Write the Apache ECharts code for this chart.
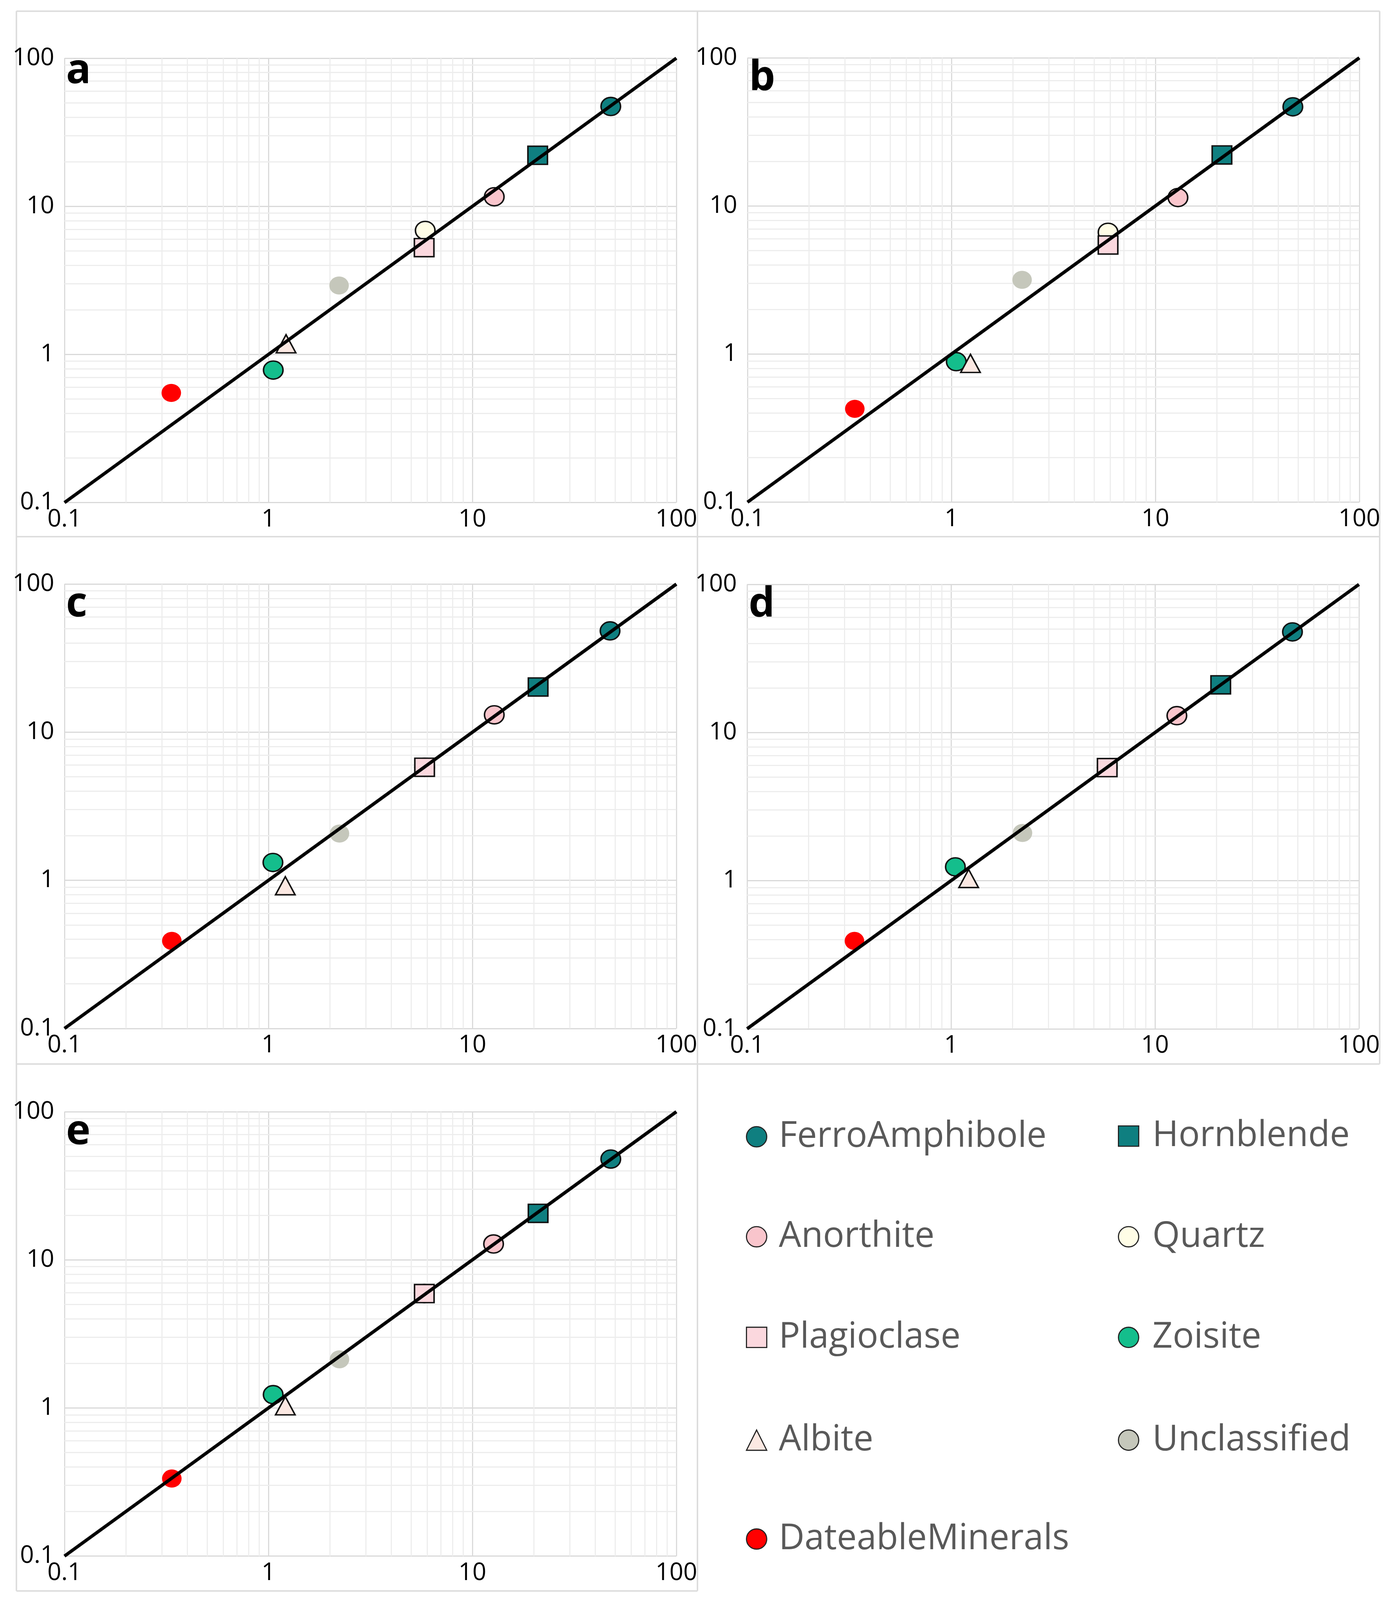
<!DOCTYPE html>
<html>
<head>
<meta charset="utf-8">
<title>Mineral comparison</title>
<script src="https://cdn.jsdelivr.net/npm/echarts@6/dist/echarts.min.js"></script>
<style>
html,body{margin:0;padding:0;background:#fff;overflow:hidden;}
#chart{width:100vw;height:100vh;}
</style>
</head>
<body>
<div id="chart"></div>
<script>
// minerals in drawing order
var minerals = ['FerroAmphibole','Hornblende','Anorthite','Quartz','Plagioclase','Zoisite','Albite','Unclassified','DateableMinerals'];

// [x, y] per mineral, same order as minerals
var panelA = [[47.7,47.2],[20.9,22.1],[12.8,11.6],[5.87,6.87],[5.8,5.26],[1.056,0.784],[1.22,1.18],[2.22,2.92],[0.334,0.55]];
var panelB = [[47.2,46.7],[21.2,22.1],[12.9,11.4],[5.86,6.64],[5.86,5.45],[1.056,0.889],[1.24,0.865],[2.22,3.17],[0.336,0.427]];
var panelC = [[47.3,48.3],[21.0,20.2],[12.8,13.1],[5.83,5.8],[5.83,5.8],[1.052,1.32],[1.21,0.92],[2.23,2.07],[0.336,0.39]];
var panelD = [[47.2,47.8],[21.0,21.0],[12.8,13.0],[5.83,5.8],[5.83,5.8],[1.05,1.24],[1.22,1.035],[2.24,2.10],[0.336,0.392]];
var panelE = [[47.7,47.9],[21.0,20.6],[12.7,12.8],[5.81,5.92],[5.81,5.92],[1.055,1.23],[1.21,1.035],[2.23,2.13],[0.336,0.334]];

var panelLetters = ['a','b','c','d','e'];
var axisTicks = [0.1, 1, 10, 100];
var oneToOne = [[0.1,0.1],[100,100]];

var panels = [panelA, panelB, panelC, panelD, panelE];

var symbols = ['circle','rect','circle','circle','rect','circle','triangle','circle','circle'];
var colors = ['#0f7f80','#0f7f80','#f9c5cc','#fffde6','#fbd8de','#14be8c','#fbe8e2','#c5c7bb','#ff0000'];
var bordered = [true,true,true,true,true,true,true,false,false];

// layout measured on a 3560 x 4594 page
var REF_W = 3560, REF_H = 4594;
var gridPos = [
    {left:165, top:167},
    {left:1913, top:166},
    {left:165, top:1677},
    {left:1912, top:1678},
    {left:165, top:3192}
];
var letterTop = [146, 166, 1677, 1678, 3192];
// legend slots: mineral index -> [icon left, icon centre y]
var legendSlots = {
    0:[1909,3264], 1:[2861,3262],
    2:[1909,3551], 3:[2861,3551],
    4:[1909,3840], 5:[2861,3840],
    6:[1909,4135], 7:[2861,4135],
    8:[1909,4419]
};
var frame = [
    [42,32,42,4568],[1785,32,1785,4568],[3531,32,3531,3055],
    [42,32,3531,32],[42,1541,3531,1541],[42,3055,3531,3055],[42,4568,1785,4568]
];

// minor grid values 0.2..0.9, 2..9, 20..90
var minorVals = [];
for (var d = 0; d < axisTicks.length - 1; d++) {
    for (var k = 2; k <= 9; k++) {
        minorVals.push(+(axisTicks[d] * k).toPrecision(3));
    }
}

function fmt(v){
    return String(+(+v).toPrecision(3));
}

var chart = echarts.init(document.getElementById('chart'));

function build(){
    var sx = chart.getWidth() / REF_W;
    var sy = chart.getHeight() / REF_H;
    var sf = Math.sqrt(sx * sy);

    var grids = [], xAxes = [], yAxes = [], series = [], titles = [], legends = [];

    panels.forEach(function(pts, p){
        grids.push({
            left: gridPos[p].left * sx, top: gridPos[p].top * sy,
            width: 1566 * sx, height: 1276 * sy,
            containLabel: false,
            outerBoundsMode: 'none'
        });
        xAxes.push({
            type:'log', logBase:10, min:0.1, max:100, gridIndex:p,
            axisLine:{show:false}, axisTick:{show:false},
            axisLabel:{fontSize:66*sf, fontFamily:'Open Sans', color:'#000', margin:14*sy,
                showMinLabel:true, showMaxLabel:true, hideOverlap:false, formatter:fmt},
            splitLine:{show:true, lineStyle:{color:'#d9d9d9', width:3*sf}}
        });
        yAxes.push({
            type:'log', logBase:10, min:0.1, max:100, gridIndex:p,
            axisLine:{show:false}, axisTick:{show:false},
            axisLabel:{fontSize:66*sf, fontFamily:'Open Sans', color:'#000', margin:26*sx,
                padding:[0,0,22*sy,0],
                showMinLabel:true, showMaxLabel:true, hideOverlap:false, formatter:fmt},
            splitLine:{show:true, lineStyle:{color:'#d9d9d9', width:3*sf}}
        });

        // minor gridlines through the axis scale
        var ml = [];
        minorVals.forEach(function(v){ ml.push({xAxis:v}); ml.push({yAxis:v}); });
        series.push({
            type:'line', xAxisIndex:p, yAxisIndex:p, z:1,
            data:[[0.1,0.1]], showSymbol:false, lineStyle:{width:0},
            silent:true, animation:false,
            markLine:{silent:true, z:1, symbol:['none','none'], label:{show:false},
                lineStyle:{color:'#ededed', width:3*sf, type:'solid'}, data:ml, animation:false}
        });

        minerals.forEach(function(name, i){
            series.push({
                name:name, type:'scatter', xAxisIndex:p, yAxisIndex:p, z:2,
                symbol:symbols[i], symbolSize:[50*sx, 52*sy],
                itemStyle:{color:colors[i], borderColor:'#111', borderWidth: bordered[i] ? 4*sf : 0, opacity:1},
                data:[pts[i]], animation:false
            });
        });

        series.push({
            type:'line', xAxisIndex:p, yAxisIndex:p, z:3,
            data:oneToOne, showSymbol:false, symbol:'none',
            lineStyle:{color:'#000', width:9*sf}, silent:true, animation:false
        });

        titles.push({
            text:panelLetters[p], left:(gridPos[p].left + 4) * sx, top:letterTop[p] * sy, padding:0,
            textStyle:{fontSize:112*sf, fontWeight:'bold', fontFamily:'Open Sans', color:'#000', lineHeight:112*sf}
        });
    });

    minerals.forEach(function(name, i){
        var slot = legendSlots[i];
        var h = 110 * sf;
        legends.push({
            orient:'horizontal', left:slot[0] * sx, top:slot[1] * sy - h / 2, padding:0,
            itemWidth:55*sf, itemHeight:55*sf, selectedMode:false,
            textStyle:{fontSize:96*sf, fontFamily:'Open Sans', color:'#595959', lineHeight:h,
                padding:[0,0,0,(i % 2 ? 30 : 26)*sx]},
            data:[{name:name, icon:symbols[i],
                itemStyle:{color:colors[i], borderColor:'#222', borderWidth:3*sf}}]
        });
    });

    return {
        backgroundColor:'#fff',
        animation:false,
        title: titles,
        grid: grids,
        xAxis: xAxes,
        yAxis: yAxes,
        legend: legends,
        graphic: frame.map(function(f){
            return {type:'line', silent:true, z:0,
                shape:{x1:f[0]*sx, y1:f[1]*sy, x2:f[2]*sx, y2:f[3]*sy},
                style:{stroke:'#dcdcdc', lineWidth:4*sf}};
        }),
        series: series
    };
}

chart.setOption(build());
window.addEventListener('resize', function(){
    chart.resize();
    chart.setOption(build(), true);
});
</script>
</body>
</html>
